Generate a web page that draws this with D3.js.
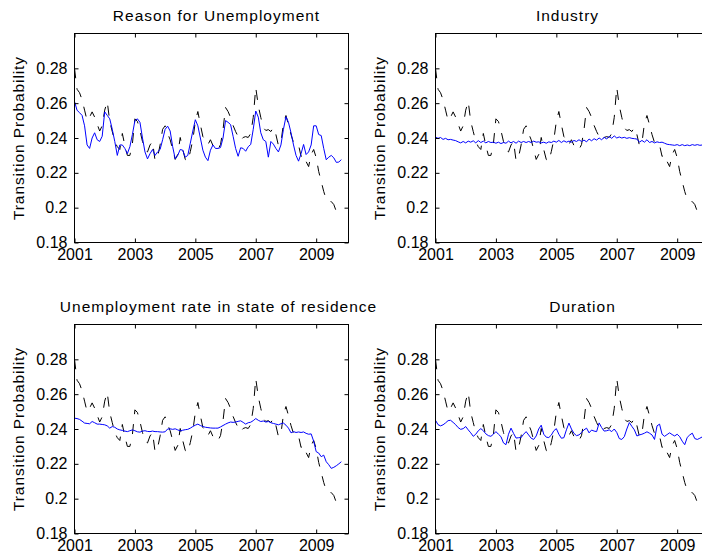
<!DOCTYPE html>
<html>
<head>
<meta charset="utf-8">
<script src="https://cdn.jsdelivr.net/npm/d3@7/dist/d3.min.js"></script>
<style>
  html, body { margin: 0; padding: 0; background: #fff; }
  svg { display: block; }
  text { font-family: "Liberation Sans", Arial, Helvetica, sans-serif; fill: #000; }
</style>
</head>
<body>
<script>
// Monthly series, January 2001 onward
const startYear = 2001;

// Observed transition probability (dashed black, same in every panel)
const observed = [
  0.280, 0.268, 0.266, 0.262, 0.256, 0.250, 0.252, 0.255, 0.252, 0.248, 0.244, 0.247,
  0.256, 0.261, 0.2495, 0.2437, 0.238, 0.235, 0.2334, 0.2426, 0.2357, 0.230, 0.230, 0.2368,
  0.251, 0.2495, 0.2443, 0.238, 0.2328, 0.232, 0.236, 0.238, 0.227, 0.229, 0.236, 0.245,
  0.247, 0.2426, 0.239, 0.2334, 0.2277, 0.2305, 0.2403, 0.2334, 0.2277, 0.2265, 0.2322, 0.239,
  0.2495, 0.2552, 0.2477, 0.2408, 0.239, 0.2362, 0.239, 0.2357, 0.2334, 0.2334, 0.2362, 0.2448,
  0.2575, 0.2552, 0.2518, 0.2472, 0.2437, 0.2408, 0.2385, 0.2403, 0.2408, 0.2403, 0.2426, 0.2518,
  0.269, 0.2586, 0.2518, 0.246, 0.2443, 0.2448, 0.2437, 0.246, 0.242, 0.2357, 0.2374, 0.2483,
  0.2529, 0.2477, 0.242, 0.2374, 0.2357, 0.236, 0.2294, 0.2305, 0.2265, 0.2236, 0.2305, 0.2334,
  0.2288, 0.2208, 0.215, 0.2093, 0.2047, 0.2035, 0.2035, 0.2018, 0.1978, 0.1995, 0.2012
];

// Predicted probability by grouping variable (solid blue)
const reasonFit = [
  0.261, 0.256, 0.2545, 0.253, 0.247, 0.236, 0.234, 0.240, 0.243, 0.239, 0.238, 0.241,
  0.255, 0.253, 0.251, 0.245, 0.238, 0.230, 0.236, 0.236, 0.234, 0.231, 0.235, 0.242,
  0.250, 0.251, 0.249, 0.240, 0.232, 0.228, 0.231, 0.2334, 0.230, 0.232, 0.2334, 0.239,
  0.245, 0.2468, 0.244, 0.235, 0.228, 0.230, 0.2334, 0.233, 0.229, 0.230, 0.237, 0.244,
  0.2505, 0.247, 0.240, 0.233, 0.229, 0.227, 0.233, 0.236, 0.234, 0.234, 0.2345, 0.240,
  0.250, 0.249, 0.2477, 0.241, 0.234, 0.2295, 0.2344, 0.234, 0.2324, 0.235, 0.2363, 0.245,
  0.2555, 0.252, 0.243, 0.239, 0.238, 0.229, 0.238, 0.2365, 0.234, 0.232, 0.236, 0.245,
  0.2522, 0.249, 0.243, 0.236, 0.230, 0.2267, 0.231, 0.2363, 0.2305, 0.232, 0.236, 0.247,
  0.247, 0.242, 0.2414, 0.234, 0.2275, 0.229, 0.230, 0.2286, 0.226, 0.2262, 0.2276
];

const industryFit = [
  0.2405, 0.2398, 0.2403, 0.2392, 0.2398, 0.2390, 0.2392, 0.2388, 0.2385, 0.2378, 0.2372, 0.2380,
  0.2372, 0.2382, 0.2376, 0.2384, 0.2372, 0.2385, 0.2374, 0.2382, 0.2372, 0.2380, 0.2374, 0.2376,
  0.2370, 0.2376, 0.2368, 0.2374, 0.2370, 0.2382, 0.2372, 0.2380, 0.2370, 0.2382, 0.2374, 0.2380,
  0.2374, 0.2380, 0.2374, 0.2382, 0.2376, 0.2378, 0.2372, 0.2376, 0.2370, 0.2378, 0.2374, 0.2382,
  0.2376, 0.2386, 0.2374, 0.2384, 0.2376, 0.2382, 0.2376, 0.2386, 0.2380, 0.2390, 0.2380, 0.2388,
  0.2378, 0.2394, 0.2384, 0.2396, 0.2388, 0.2400, 0.2390, 0.2404, 0.2394, 0.2410, 0.2398, 0.2412,
  0.2400, 0.2406, 0.2400, 0.2404, 0.2398, 0.2402, 0.2398, 0.2396, 0.2394, 0.2376, 0.2386, 0.2376,
  0.2390, 0.2374, 0.2380, 0.2372, 0.2378, 0.2374, 0.2376, 0.2370, 0.2364, 0.2362, 0.2360, 0.2358,
  0.2362, 0.2356, 0.2362, 0.2356, 0.2360, 0.2356, 0.2362, 0.2358, 0.2362, 0.2358, 0.2360
];

const stateRateFit = [
  0.2462, 0.2460, 0.2455, 0.2445, 0.2434, 0.2432, 0.2430, 0.2443, 0.2436, 0.2428, 0.2428, 0.2426,
  0.2424, 0.2418, 0.2405, 0.2414, 0.2410, 0.2400, 0.2395, 0.2392, 0.2388, 0.2385, 0.2390, 0.2395,
  0.2390, 0.2384, 0.2382, 0.2388, 0.2390, 0.2386, 0.2385, 0.2388, 0.2385, 0.2385, 0.2383, 0.2382,
  0.2384, 0.2400, 0.2401, 0.2398, 0.2401, 0.2395, 0.2389, 0.2393, 0.2396, 0.2398, 0.2405, 0.2414,
  0.2422, 0.2428, 0.2420, 0.2414, 0.2410, 0.2408, 0.2406, 0.2405, 0.2405, 0.2405, 0.2412, 0.2420,
  0.2428, 0.2435, 0.2440, 0.2438, 0.2440, 0.2444, 0.2447, 0.2438, 0.2428, 0.2436, 0.2439, 0.2448,
  0.2460, 0.2450, 0.2443, 0.2446, 0.2440, 0.2443, 0.2436, 0.2432, 0.2428, 0.2424, 0.2430, 0.2434,
  0.2422, 0.2405, 0.2378, 0.2385, 0.2380, 0.2383, 0.2380, 0.2383, 0.2375, 0.2370, 0.2372, 0.2330,
  0.2270, 0.2262, 0.2241, 0.2250, 0.2212, 0.2195, 0.2174, 0.2180, 0.2189, 0.2200, 0.2212
];

const durationFit = [
  0.2450, 0.2425, 0.2418, 0.2424, 0.2435, 0.2448, 0.2450, 0.2438, 0.2425, 0.2408, 0.2398, 0.2402,
  0.2414, 0.2395, 0.2378, 0.2358, 0.2370, 0.2390, 0.2402, 0.2390, 0.2372, 0.2362, 0.2358, 0.2370,
  0.2385, 0.2370, 0.2356, 0.2320, 0.2310, 0.2370, 0.2405, 0.2375, 0.2348, 0.2350, 0.2351, 0.2370,
  0.2385, 0.2366, 0.2347, 0.2340, 0.2360, 0.2400, 0.2422, 0.2370, 0.2353, 0.2351, 0.2365, 0.2390,
  0.2402, 0.2370, 0.2347, 0.2350, 0.2395, 0.2434, 0.2400, 0.2375, 0.2362, 0.2366, 0.2380, 0.2395,
  0.2405, 0.2378, 0.2394, 0.2388, 0.2385, 0.2435, 0.2408, 0.2388, 0.2390, 0.2395, 0.2385, 0.2400,
  0.2380, 0.2345, 0.2340, 0.2356, 0.2400, 0.2437, 0.2415, 0.2395, 0.2360, 0.2366, 0.2370, 0.2376,
  0.2384, 0.2376, 0.2366, 0.2340, 0.2418, 0.2428, 0.2370, 0.2358, 0.2368, 0.2378, 0.2368, 0.2360,
  0.2370, 0.2356, 0.2330, 0.2310, 0.2352, 0.2366, 0.2376, 0.2345, 0.2340, 0.2347, 0.2355
];

const panelTitles = [
  "Reason for Unemployment",
  "Industry",
  "Unemployment rate in state of residence",
  "Duration"
];
const yLabel = "Transition Probability";
const xTicks = [2001, 2003, 2005, 2007, 2009];
const yTicks = [0.18, 0.2, 0.22, 0.24, 0.26, 0.28];
const xDomain = [2001, 2010.07];
const yDomain = [0.18, 0.30];

// ---- layout ----
const W = 702, H = 560;
const pw = 274, ph = 209;
const panels = [
  { title: panelTitles[0], fit: reasonFit,    left: 74.5,  top: 33.5,  titleX: 142 },
  { title: panelTitles[1], fit: industryFit,  left: 435.5, top: 33.5,  titleX: 132 },
  { title: panelTitles[2], fit: stateRateFit, left: 74.5,  top: 324.5, titleX: 144 },
  { title: panelTitles[3], fit: durationFit,  left: 435.5, top: 324.5, titleX: 147 }
];

const svg = d3.select("body").append("svg")
  .attr("width", W).attr("height", H);

const x = d3.scaleLinear().domain(xDomain).range([0, pw]);
const y = d3.scaleLinear().domain(yDomain).range([ph, 0]);
const t = i => startYear + i / 12;

const line = d3.line()
  .x((d, i) => x(t(i)))
  .y(d => y(d));

const tickLen = 4;

panels.forEach(p => {
  const g = svg.append("g").attr("transform", `translate(${p.left},${p.top})`);

  const clipId = "clip" + Math.round(p.left) + "_" + Math.round(p.top);
  g.append("clipPath").attr("id", clipId)
    .append("rect").attr("width", pw).attr("height", ph);

  const plot = g.append("g").attr("clip-path", `url(#${clipId})`);
  plot.append("path")
    .datum(observed)
    .attr("d", line)
    .attr("fill", "none")
    .attr("stroke", "#000")
    .attr("stroke-width", 1)
    .attr("stroke-dasharray", "10,10");
  plot.append("path")
    .datum(p.fit)
    .attr("d", line)
    .attr("fill", "none")
    .attr("stroke", "#0000ff")
    .attr("stroke-width", 1);

  // bottom and left axes with inward ticks
  const xAxis = d3.axisBottom(x).tickValues(xTicks).tickFormat(d3.format("d"))
    .tickSizeInner(-tickLen).tickSizeOuter(0).tickPadding(8);
  const yAxis = d3.axisLeft(y).tickValues(yTicks).tickFormat(d => d3.format("")(+d.toFixed(2)))
    .tickSizeInner(-tickLen).tickSizeOuter(0).tickPadding(7);

  const gx = g.append("g").attr("transform", `translate(0,${ph})`).call(xAxis);
  const gy = g.append("g").call(yAxis);
  // mirrored ticks on top and right
  g.append("g").call(d3.axisTop(x).tickValues(xTicks).tickFormat("")
    .tickSizeInner(-tickLen).tickSizeOuter(0));
  g.append("g").attr("transform", `translate(${pw},0)`)
    .call(d3.axisRight(y).tickValues(yTicks).tickFormat("")
    .tickSizeInner(-tickLen).tickSizeOuter(0));

  g.selectAll(".domain").remove();
  g.selectAll(".tick line").attr("stroke", "#000");
  [gx, gy].forEach(a => a.selectAll("text")
    .style("font-family", '"Liberation Sans", Arial, sans-serif')
    .style("font-size", "16px").attr("fill", "#000"));
  gx.selectAll("text").attr("dy", "0.62em");

  // box
  g.append("rect").attr("width", pw).attr("height", ph)
    .attr("fill", "none").attr("stroke", "#000").attr("stroke-width", 1);

  // title
  g.append("text")
    .attr("x", p.titleX).attr("y", -12.5)
    .attr("text-anchor", "middle")
    .style("font-size", "15.5px")
    .style("letter-spacing", "1px")
    .text(p.title);

  // y label
  g.append("text")
    .attr("transform", `translate(-51,${ph / 2}) rotate(-90)`)
    .attr("text-anchor", "middle")
    .style("font-size", "15.5px")
    .style("letter-spacing", "0.9px")
    .text(yLabel);
});
</script>
</body>
</html>
